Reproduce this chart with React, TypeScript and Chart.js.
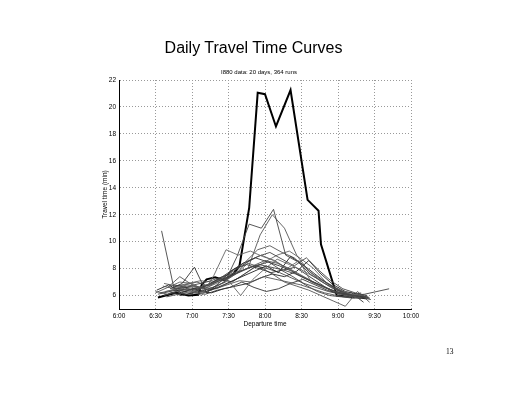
import React, { useEffect, useRef } from "react";
import { Chart, registerables } from "chart.js";

Chart.register(...registerables);

// Axis ticks (x in minutes after 6:00)
const xTicks = [0, 30, 60, 90, 120, 150, 180, 210, 240];
const yTicks = [6, 8, 10, 12, 14, 16, 18, 20, 22];

// Thin curves: start minute (after 6:00), one run every 10 minutes
const thinStarts = [35, 30, 42, 38, 37, 36, 31, 40, 34, 45, 39, 32, 37, 41, 44, 36, 43, 30, 46];
const thinValues: number[][] = [
  [10.8, 6.6, 6.4, 6.5, 6.8, 7.2, 7.6, 8.0, 8.3, 8.1, 7.9, 7.6, 7.2, 6.8, 6.4, 6.1, 6.0, 5.9],
  [6.2, 6.6, 7.4, 6.8, 6.5, 6.9, 7.3, 7.8, 8.2, 8.6, 8.4, 8.0, 7.5, 7.0, 6.6, 6.2, 6.0, 5.8],
  [6.5, 6.9, 8.1, 6.2, 6.9, 7.8, 8.4, 8.8, 8.5, 8.2, 7.8, 7.3, 6.9, 6.5, 6.2, 6.0, 5.8],
  [6.3, 6.5, 6.4, 6.0, 7.5, 9.4, 9.0, 9.3, 8.9, 8.6, 8.0, 8.6, 7.0, 6.6, 6.3, 6.1, 5.9],
  [6.0, 6.3, 6.5, 6.3, 6.6, 7.0, 8.9, 11.3, 11.0, 12.4, 9.0, 8.5, 7.6, 7.0, 6.5, 6.1, 5.9, 5.7],
  [6.7, 6.5, 6.8, 6.6, 6.9, 7.2, 7.6, 8.0, 10.5, 12.0, 11.0, 9.0, 7.8, 7.2, 6.6, 6.2, 5.9, 5.8],
  [6.4, 6.8, 6.2, 6.5, 6.3, 6.6, 7.0, 7.4, 7.8, 8.2, 7.7, 8.9, 8.3, 7.6, 6.9, 6.4, 6.0, 5.9],
  [6.6, 7.0, 6.9, 6.4, 6.7, 7.1, 6.0, 7.2, 8.0, 8.7, 8.3, 7.9, 7.4, 7.0, 6.5, 6.1, 6.0],
  [6.2, 6.4, 6.3, 6.6, 6.8, 7.3, 7.8, 8.4, 8.9, 9.2, 8.7, 8.2, 8.8, 7.9, 7.1, 6.5, 6.2, 6.0],
  [6.8, 6.6, 6.5, 6.9, 7.4, 8.0, 8.3, 8.0, 7.7, 7.9, 8.1, 7.5, 6.9, 6.3, 6.1, 5.9, 5.8],
  [5.9, 6.1, 6.3, 6.2, 6.5, 6.8, 7.1, 7.0, 7.4, 7.2, 7.0, 6.8, 6.5, 6.2, 6.0, 5.9, 6.2],
  [6.1, 6.3, 6.5, 6.8, 7.0, 7.3, 7.6, 7.9, 8.2, 8.0, 7.7, 7.3, 6.9, 6.6, 6.3, 6.1, 6.0, 6.1, 6.3, 6.5],
  [6.9, 6.7, 6.9, 7.1, 7.0, 7.3, 7.8, 8.6, 9.0, 8.6, 8.1, 7.6, 7.1, 6.7, 6.3, 6.0, 5.8],
  [6.3, 6.0, 6.2, 6.1, 6.4, 6.6, 7.0, 6.6, 6.3, 6.5, 6.9, 7.2, 6.8, 6.4, 6.1, 6.2, 5.5],
  [6.6, 6.8, 7.0, 6.7, 7.2, 7.9, 8.5, 9.4, 9.7, 9.2, 8.8, 8.0, 7.2, 6.6, 6.2, 6.0, 5.9],
  [6.0, 6.2, 6.1, 6.3, 6.2, 6.5, 6.7, 6.9, 7.3, 7.6, 7.4, 7.8, 8.6, 7.6, 6.8, 6.3, 6.1, 5.8],
  [6.4, 6.6, 6.3, 6.8, 7.3, 7.0, 7.6, 8.2, 8.5, 7.9, 7.4, 6.8, 6.3, 6.0, 5.9, 5.8, 6.0],
  [6.3, 6.1, 6.4, 6.2, 6.6, 6.5, 6.9, 7.4, 8.0, 8.5, 9.0, 9.3, 8.7, 8.0, 7.0, 6.4, 6.1, 5.8],
  [6.5, 6.7, 6.6, 6.4, 7.0, 7.6, 8.4, 8.1, 7.6, 7.0, 6.7, 6.4, 6.0, 5.6, 5.2, 6.3, 5.5],
];
const thinColors = ["#444", "#555", "#333", "#666", "#444", "#555", "#222", "#666", "#444", "#333", "#555", "#444", "#666", "#333", "#555", "#222", "#444", "#666", "#555"];

// Highlighted (worst) day
const thickTimes = [32, 47, 57, 65, 68, 72, 79, 86, 94, 99, 107, 114, 120, 129, 141, 155, 164, 166, 179, 190, 203];
const thickValues = [5.85, 6.2, 6.0, 6.05, 6.8, 7.2, 7.35, 7.15, 7.6, 8.2, 12.5, 21.05, 20.95, 18.55, 21.25, 13.1, 12.3, 9.8, 6.0, 5.9, 5.8];

const STEP = 10;
const FONT = "'Liberation Sans', Arial, Helvetica, sans-serif";

function fmtTime(v: number): string {
  const h = 6 + Math.floor(v / 60);
  const m = Math.round(v % 60);
  return `${h}:${m < 10 ? "0" + m : m}`;
}

export default function App() {
  const ref = useRef<HTMLCanvasElement | null>(null);

  useEffect(() => {
    document.body.style.margin = "0";
    const canvas = ref.current;
    if (!canvas) return;

    const thinSets = thinValues.map((vals, i) => ({
      data: vals.map((v, j) => ({ x: thinStarts[i] + j * STEP, y: v })),
      borderColor: thinColors[i],
      borderWidth: 0.9,
      pointRadius: 0,
      tension: 0,
      fill: false,
    }));

    const thickSet = {
      data: thickValues.map((v, j) => ({ x: thickTimes[j], y: v })),
      borderColor: "#000",
      borderWidth: 2,
      pointRadius: 0,
      tension: 0,
      fill: false,
    };

    const chart = new Chart(canvas, {
      type: "line",
      data: { datasets: [...thinSets, thickSet] as any },
      options: {
        responsive: false,
        animation: false,
        parsing: false as any,
        layout: { padding: { left: 101, right: 106, top: 80, bottom: 72 } },
        plugins: { legend: { display: false }, tooltip: { enabled: false }, title: { display: false } },
        scales: {
          x: {
            type: "linear",
            min: 0,
            max: 240,
            afterBuildTicks: (s: any) => { s.ticks = xTicks.map((v) => ({ value: v })); },
            afterFit: (s: any) => { s.height = 19; },
            ticks: {
              callback: (v: any) => fmtTime(Number(v)),
              font: { family: FONT, size: 6.5 },
              color: "#000",
              padding: 3,
              maxRotation: 0,
              autoSkip: false,
            },
            grid: { color: "#999", lineWidth: 1, drawTicks: false },
            border: { display: true, color: "#000", width: 1, dash: [1, 2] } as any,
            title: { display: true, text: "Departure time", font: { family: FONT, size: 6.5 }, color: "#000", padding: 0 },
          },
          y: {
            type: "linear",
            min: 5,
            max: 22,
            afterBuildTicks: (s: any) => { s.ticks = yTicks.map((v) => ({ value: v })); },
            afterFit: (s: any) => { s.width = 18; },
            ticks: {
              font: { family: FONT, size: 6.5 },
              color: "#000",
              padding: 3,
              autoSkip: false,
            },
            grid: { color: "#999", lineWidth: 1, drawTicks: false },
            border: { display: true, color: "#000", width: 1, dash: [1, 2] } as any,
            title: { display: true, text: "Travel time (min)", font: { family: FONT, size: 6.5 }, color: "#000", padding: 0 },
          },
        },
      },
    } as any);

    return () => chart.destroy();
  }, []);

  return (
    <div style={{ position: "relative", width: 517, height: 400, background: "#fff" }}>
      <canvas ref={ref} width={517} height={400} style={{ position: "absolute", left: 0, top: 0, width: 517, height: 400 }} />
      <div style={{ position: "absolute", left: 0, width: 507, top: 38, textAlign: "center", fontFamily: FONT, fontSize: 16, lineHeight: "19px", color: "#000" }}>
        Daily Travel Time Curves
      </div>
      <div style={{ position: "absolute", left: 0, width: 518, top: 68, textAlign: "center", fontFamily: FONT, fontSize: 6, lineHeight: "8px", color: "#000" }}>
        I880 data: 20 days, 364 runs
      </div>
      <div style={{ position: "absolute", left: 446, top: 347, fontFamily: "'Liberation Serif', 'Times New Roman', serif", fontSize: 7.5, lineHeight: "9px", color: "#000" }}>
        13
      </div>
    </div>
  );
}
